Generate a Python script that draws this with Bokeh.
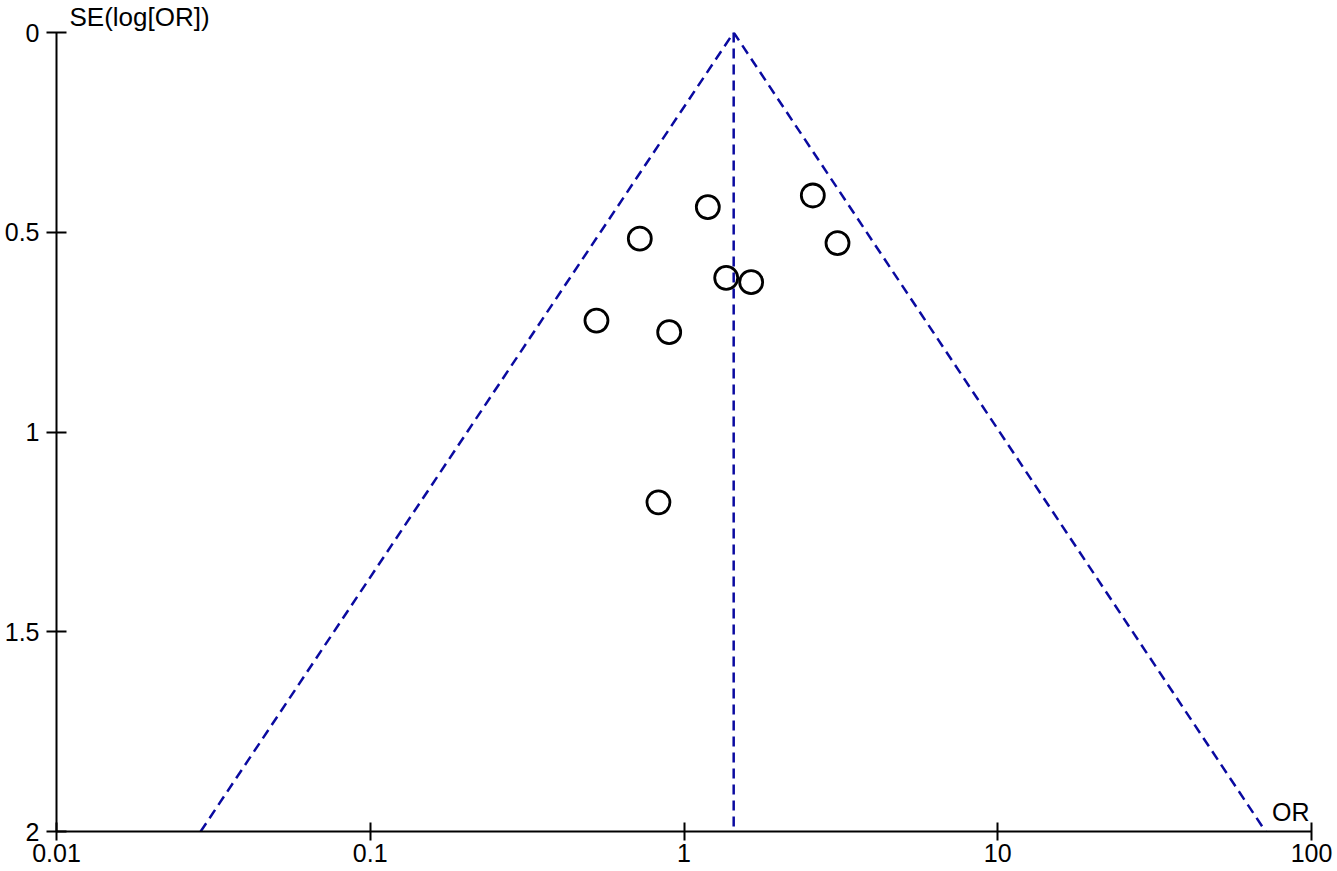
from bokeh.plotting import figure
from bokeh.models import Range1d, FixedTicker, CustomJSTickFormatter, Label, ColumnDataSource, Title
from bokeh.embed import file_html
from bokeh.resources import INLINE

# Study estimates (odds ratio and standard error of log OR)
odds_ratio = [2.574, 1.191, 0.723, 3.085, 1.363, 1.637, 0.526, 0.897, 0.829]
se_log_or = [0.408, 0.437, 0.516, 0.527, 0.614, 0.625, 0.721, 0.750, 1.176]

# Pooled estimate and pseudo 95% confidence limits at SE = 2
pooled_or = 1.44
funnel_left_or = 0.0288
funnel_right_or = 71.4
se_max = 2.0

x_ticks = [0.01, 0.1, 1, 10, 100]
y_ticks = [0, 0.5, 1, 1.5, 2]

FONT = "Liberation Sans"

title = Title(text="SE(log[OR])", text_font=FONT, text_font_size="26px",
              text_font_style="normal", text_color="black", align="left",
              offset=13, standoff=0, vertical_align="middle")

p = figure(width=1337, height=871, x_axis_type="log",
           x_range=Range1d(0.01, 100), y_range=Range1d(2, 0),
           output_backend="svg", toolbar_location=None, title=title,
           min_border_left=56, min_border_top=32, min_border_right=26, min_border_bottom=40)
p.outline_line_color = None
p.xgrid.visible = False
p.ygrid.visible = False
p.background_fill_color = "white"

dash_color = "#0a0aa0"
# funnel lines
p.line(x=[funnel_left_or, pooled_or, funnel_right_or], y=[se_max, 0, se_max],
       line_color=dash_color, line_width=2.5, line_dash="10 6")
p.line(x=[pooled_or, pooled_or], y=[0, se_max],
       line_color=dash_color, line_width=2.5, line_dash="10 6")

src = ColumnDataSource(dict(x=odds_ratio, y=se_log_or))
p.scatter("x", "y", source=src, size=23, fill_color=None, line_color="black", line_width=2.8)

for ax in (p.xaxis[0], p.yaxis[0]):
    ax.axis_line_color = "black"
    ax.axis_line_width = 2
    ax.major_tick_line_color = "black"
    ax.major_tick_line_width = 2
    ax.minor_tick_line_color = None
    ax.major_label_text_font = FONT
    ax.major_label_text_font_size = "25px"
    ax.major_label_text_color = "black"

p.xaxis.ticker = FixedTicker(ticks=x_ticks)
p.xaxis.formatter = CustomJSTickFormatter(code="return tick.toString();")
p.xaxis.major_tick_out = 9
p.xaxis.major_tick_in = 9
p.xaxis.major_label_standoff = 3

p.yaxis.ticker = FixedTicker(ticks=y_ticks)
p.yaxis.formatter = CustomJSTickFormatter(code="return tick.toString();")
p.yaxis.major_tick_out = 10
p.yaxis.major_tick_in = 10
p.yaxis.major_label_standoff = 7

p.add_layout(Label(x=98.5, y=1.95, text="OR", text_font=FONT,
                   text_font_size="25px", text_align="right", text_baseline="middle",
                   text_color="black"))

open("out.html", "w").write(file_html(p, INLINE))
